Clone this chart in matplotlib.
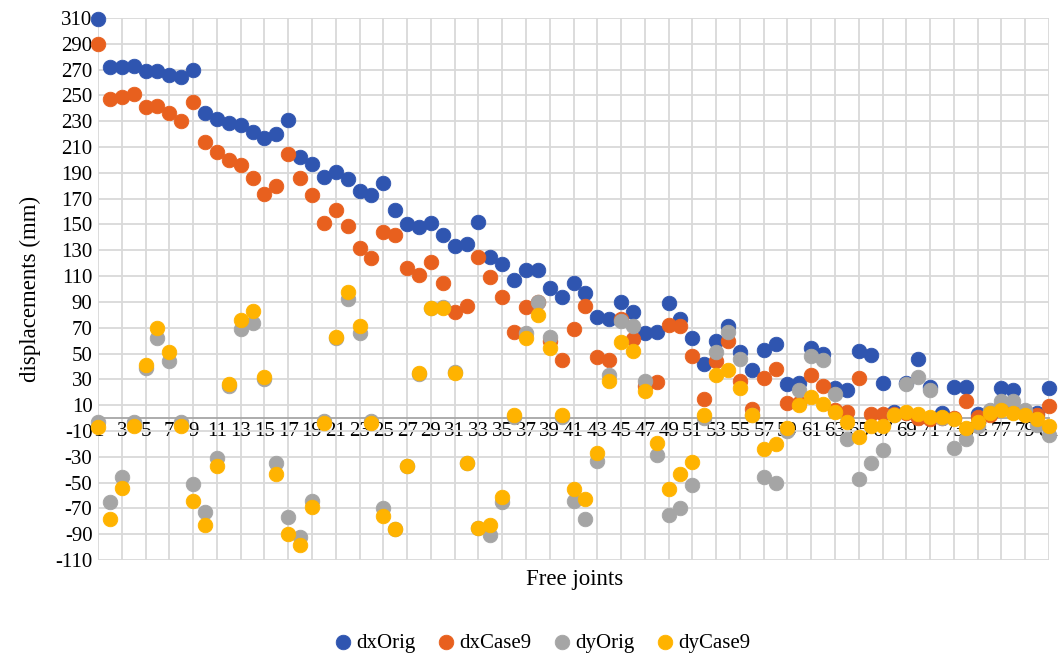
import matplotlib
matplotlib.use('Agg')
import matplotlib.pyplot as plt
import numpy as np

plt.rcParams['font.family'] = ['Liberation Serif', 'DejaVu Serif']
plt.rcParams['axes.unicode_minus'] = False

joints = list(range(1, 82))

dx_orig = [309, 272, 272, 273, 269, 269, 266, 264, 270, 236,
           232, 229, 227, 222, 217, 220, 231, 202, 197, 187,
           191, 185, 176, 173, 182, 161, 150, 148, 151, 142,
           133, 135, 152, 125, 119, 107, 115, 115, 101, 94,
           105, 97, 78, 77, 90, 82, 66, 67, 89, 77,
           62, 42, 60, 71, 51, 37, 53, 57, 26, 27,
           54, 50, 23, 22, 52, 49, 27, 5, 27, 46,
           24, 4, 24, 24, 3, 4, 23, 22, 4, 4,
           23]
dx_case9 = [290, 247, 249, 251, 241, 242, 236, 230, 245, 214,
            206, 200, 196, 186, 174, 180, 205, 186, 173, 151,
            161, 149, 132, 124, 144, 142, 116, 111, 121, 105,
            82, 87, 125, 109, 94, 67, 86, 90, 60, 45,
            69, 87, 47, 45, 77, 61, 25, 28, 72, 71,
            48, 15, 44, 60, 29, 7, 31, 38, 12, 12,
            33, 25, 6, 5, 31, 3, 3, 3, 4, 0,
            -1, 0, 0, 13, 1, 2, 9, 5, 3, 2,
            9]
dy_orig = [-3, -65, -46, -3, 39, 62, 44, -3, -51, -73,
           -31, 25, 69, 74, 30, -35, -77, -92, -64, -2,
           62, 92, 66, -2, -70, -86, -37, 34, 85, 86,
           36, -35, -85, -91, -65, 1, 66, 90, 63, 1,
           -64, -78, -33, 33, 75, 71, 29, -29, -75, -70,
           -52, 0, 51, 67, 46, 2, -46, -50, -10, 22,
           48, 45, 19, -16, -47, -35, -25, 2, 26, 32,
           22, 0, -23, -16, -6, 6, 13, 13, 6, -5,
           -13]
dy_case9 = [-7, -78, -54, -6, 41, 70, 51, -6, -64, -83,
            -37, 26, 76, 83, 32, -43, -90, -98, -69, -4,
            63, 98, 71, -4, -76, -86, -37, 35, 85, 85,
            35, -35, -85, -83, -61, 2, 62, 80, 54, 2,
            -55, -63, -27, 29, 59, 52, 21, -19, -55, -43,
            -34, 2, 33, 37, 23, 2, -24, -20, -8, 10,
            16, 11, 5, -3, -15, -6, -6, 2, 5, 3,
            1, 1, -1, -8, -3, 4, 6, 4, 2, -1,
            -6]

series = [('dxOrig', dx_orig, '#2F55B0'),
          ('dxCase9', dx_case9, '#E8601E'),
          ('dyOrig', dy_orig, '#A5A5A5'),
          ('dyCase9', dy_case9, '#FFB300')]

fig = plt.figure(figsize=(10.6, 6.6), dpi=100)
ax = fig.add_axes((98 / 1060, 100 / 660, 951 / 1060, 542 / 660))

for name, vals, color in series:
    ax.scatter(joints, vals, s=110, color=color, edgecolors=color,
               linewidths=0.6, label=name, zorder=3, clip_on=False)

ax.set_xlim(1, 81)
ax.set_ylim(-110, 310)
ax.set_yticks(np.arange(-110, 311, 20))
ax.set_xticks(range(1, 82, 2))
ax.tick_params(length=0, labelsize=15)
ax.tick_params(axis='x', pad=3)
ax.tick_params(axis='y', pad=4)

ax.grid(True, color='#D9D9D9', linewidth=1.3)
ax.set_axisbelow(True)
for side in ['top', 'right', 'left']:
    ax.spines[side].set_visible(False)
ax.spines['bottom'].set_position(('data', 0))
ax.spines['bottom'].set_color('#A6A6A6')
ax.spines['bottom'].set_linewidth(1.3)
ax.spines['bottom'].set_zorder(2)

ax.set_ylabel('displacements (mm)', fontsize=16.5, labelpad=10)
fig.text(575 / 1060, 1 - 580 / 660, 'Free joints', ha='center', va='center',
         fontsize=16.5)

fig.legend(loc='center', bbox_to_anchor=(543 / 1060, 1 - 643 / 660), ncol=4,
           frameon=False, fontsize=15, handlelength=0.7, handletextpad=0.3,
           columnspacing=1.1, markerscale=1.0)

fig.savefig('out.png', dpi=100)
